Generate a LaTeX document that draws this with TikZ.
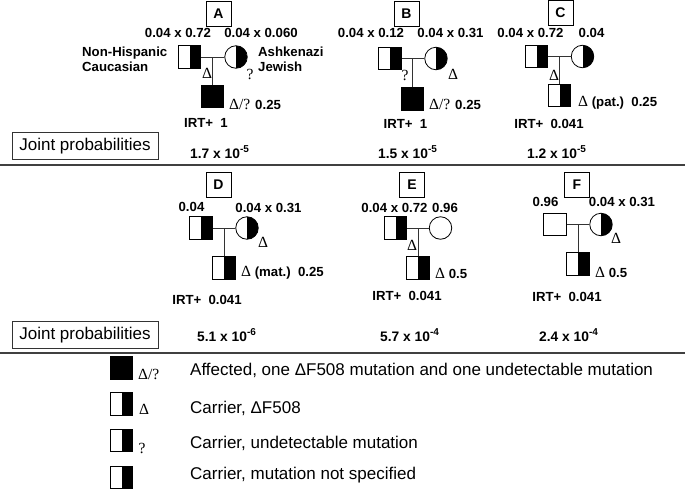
\documentclass[tikz,border=0pt]{standalone}
\usepackage{fontspec}
\setmainfont{Liberation Sans}
\newfontfamily\serifsym{Liberation Serif}
\newcommand\symf{\fontsize{15.5}{15.5}\selectfont\serifsym\mdseries}
\newcommand\expo[1]{\raisebox{0.42em}{\fontsize{10}{10}\selectfont #1}}
\begin{document}
\begin{tikzpicture}[x=1pt,y=-1pt,
  lbl/.style={font=\fontsize{13.2}{15}\selectfont\bfseries, inner sep=0pt},
  jlbl/.style={font=\fontsize{13.8}{15}\selectfont\bfseries, inner sep=0pt},
  sym/.style={font=\symf, inner sep=0pt},
  reg/.style={font=\fontsize{17}{19}\selectfont, inner sep=0pt},
  male/.style={draw=black, line width=0.8pt, rectangle, minimum size=22.5pt, inner sep=0pt, fill=white},
  female/.style={draw=black, line width=0.8pt, circle, minimum size=22.5pt, inner sep=0pt, fill=white},
  carrier/.style={path picture={\fill[black] (path picture bounding box.north) rectangle (path picture bounding box.south east);}},
  affected/.style={fill=black},
  letterbox/.style={draw=black, line width=0.8pt, minimum size=25pt, inner sep=0pt, font=\fontsize{14}{14}\selectfont\bfseries},
  jointbox/.style={draw=black!80, line width=0.8pt, minimum width=146pt, minimum height=27pt, inner sep=0pt, font=\fontsize{17}{19}\selectfont},
  conn/.style={draw=black!80, line width=0.9pt},
  sep/.style={draw=black!75, line width=1.3pt}
]
\useasboundingbox (0,0) rectangle (685,490);

% ---------------- A ----------------
\node[letterbox] (boxA) at (218.5,13.5) {A};
\node[lbl] (pA1) at (178,33) {0.04 x 0.72};
\node[lbl] (pA2) at (261,33) {0.04 x 0.060};
\node[lbl, align=left, anchor=west] (ethA1) at (82,59.5) {Non-Hispanic\\Caucasian};
\node[lbl, align=left, anchor=west] (ethA2) at (258,59.5) {Ashkenazi\\Jewish};
\node[male, carrier] (fA) at (189.5,57) {};
\node[female, carrier] (moA) at (236,57) {};
\node[male, affected] (cA) at (212.5,96.5) {};
\coordinate (mA) at (cA |- fA);
\draw[conn] (fA.east) -- (moA.west);
\draw[conn] (mA) -- (cA.north);
\node[sym] (dA) at (207,73) {Δ};
\node[sym] (qA) at (250,74) {?};
\node[lbl, anchor=west] (cAl) at (229,104) {{\symf Δ/?} 0.25};
\node[lbl] (irtA) at (206,123) {IRT+\ \ 1};

% ---------------- B ----------------
\node[letterbox] (boxB) at (406.5,13.5) {B};
\node[lbl] (pB1) at (371,33) {0.04 x 0.12};
\node[lbl] (pB2) at (450.5,33) {0.04 x 0.31};
\node[male, carrier] (fB) at (390,58.5) {};
\node[female, carrier] (moB) at (436,58.5) {};
\node[male, affected] (cB) at (412.5,99) {};
\coordinate (mB) at (cB |- fB);
\draw[conn] (fB.east) -- (moB.west);
\draw[conn] (mB) -- (cB.north);
\node[sym] (qB) at (405,75) {?};
\node[sym] (dB) at (453,74) {Δ};
\node[lbl, anchor=west] (cBl) at (429,104) {{\symf Δ/?} 0.25};
\node[lbl] (irtB) at (405.5,124) {IRT+\ \ 1};

% ---------------- C ----------------
\node[letterbox] (boxC) at (560.5,13) {C};
\node[lbl] (pC1) at (530.5,33) {0.04 x 0.72};
\node[lbl] (pC2) at (591.5,33) {0.04};
\node[male, carrier] (fC) at (536.5,56.5) {};
\node[female, carrier] (moC) at (582.5,56.5) {};
\node[male, carrier] (cC) at (559.5,95.5) {};
\coordinate (mC) at (cC |- fC);
\draw[conn] (fC.east) -- (moC.west);
\draw[conn] (mC) -- (cC.north);
\node[sym] (dC) at (554,75) {Δ};
\node[lbl, anchor=west] (cCl) at (578,103) {{\symf Δ} (pat.)\ \ 0.25};
\node[lbl] (irtC) at (549,124) {IRT+\ \ 0.041};

% ---------------- joint row 1 ----------------
\node[jointbox] (j1) at (85,146) {Joint probabilities};
\node[jlbl, anchor=west] (jA) at (190,152) {1.7 x 10\expo{-5}};
\node[jlbl, anchor=west] (jB) at (378,152) {1.5 x 10\expo{-5}};
\node[jlbl, anchor=west] (jC) at (527,152) {1.2 x 10\expo{-5}};
\coordinate (s1l) at (0,165);
\coordinate (s1r) at (685,165);
\draw[sep] (s1l) -- (s1r);

% ---------------- D ----------------
\node[letterbox] (boxD) at (218.5,184.5) {D};
\node[lbl] (pD1) at (191.5,207) {0.04};
\node[lbl] (pD2) at (268.5,208) {0.04 x 0.31};
\node[male, carrier] (fD) at (201,228) {};
\node[female, carrier] (moD) at (247,228) {};
\node[male, carrier] (cD) at (224,268) {};
\coordinate (mD) at (cD |- fD);
\draw[conn] (fD.east) -- (moD.west);
\draw[conn] (mD) -- (cD.north);
\node[sym] (dD) at (263,242) {Δ};
\node[lbl, anchor=west] (cDl) at (241,273) {{\symf Δ} (mat.)\ \ 0.25};
\node[lbl] (irtD) at (207,300) {IRT+\ \ 0.041};

% ---------------- E ----------------
\node[letterbox] (boxE) at (412,184.5) {E};
\node[lbl] (pE1) at (394.5,208) {0.04 x 0.72};
\node[lbl] (pE2) at (445,208) {0.96};
\node[male, carrier] (fE) at (395.5,228) {};
\node[female] (moE) at (440.5,228) {};
\node[male, carrier] (cE) at (418,268) {};
\coordinate (mE) at (cE |- fE);
\draw[conn] (fE.east) -- (moE.west);
\draw[conn] (mE) -- (cE.north);
\node[sym] (dE) at (412,245) {Δ};
\node[lbl, anchor=west] (cEl) at (435,273) {{\symf Δ} 0.5};
\node[lbl] (irtE) at (407,296) {IRT+\ \ 0.041};

% ---------------- F ----------------
\node[letterbox] (boxF) at (577,184.5) {F};
\node[lbl] (pF1) at (545.5,202) {0.96};
\node[lbl] (pF2) at (622,202) {0.04 x 0.31};
\node[male] (fF) at (555,224.5) {};
\node[female, carrier] (moF) at (601,224.5) {};
\node[male, carrier] (cF) at (578,264) {};
\coordinate (mF) at (cF |- fF);
\draw[conn] (fF.east) -- (moF.west);
\draw[conn] (mF) -- (cF.north);
\node[sym] (dF) at (616,238) {Δ};
\node[lbl, anchor=west] (cFl) at (595,272) {{\symf Δ} 0.5};
\node[lbl] (irtF) at (567,297) {IRT+\ \ 0.041};

% ---------------- joint row 2 ----------------
\node[jointbox] (j2) at (85,335) {Joint probabilities};
\node[jlbl, anchor=west] (jD) at (197,335) {5.1 x 10\expo{-6}};
\node[jlbl, anchor=west] (jE) at (380,335) {5.7 x 10\expo{-4}};
\node[jlbl, anchor=west] (jF) at (539,335) {2.4 x 10\expo{-4}};
\coordinate (s2l) at (0,353);
\coordinate (s2r) at (685,353);
\draw[sep] (s2l) -- (s2r);

% ---------------- legend ----------------
\node[male, affected] (L1) at (121.5,368) {};
\node[sym, anchor=west] (L1s) at (138,374) {Δ/?};
\node[reg, anchor=west] (L1t) at (190,370) {Affected, one ΔF508 mutation and one undetectable mutation};
\node[male, carrier] (L2) at (121.5,404) {};
\node[sym] (L2s) at (144,409) {Δ};
\node[reg, anchor=west] (L2t) at (190,408) {Carrier, ΔF508};
\node[male, carrier] (L3) at (121.5,440.5) {};
\node[sym] (L3s) at (142,448) {?};
\node[reg, anchor=west] (L3t) at (190,443) {Carrier, undetectable mutation};
\node[male, carrier] (L4) at (121.5,477.5) {};
\node[reg, anchor=west] (L4t) at (190,475) {Carrier, mutation not specified};
\end{tikzpicture}
\end{document}
